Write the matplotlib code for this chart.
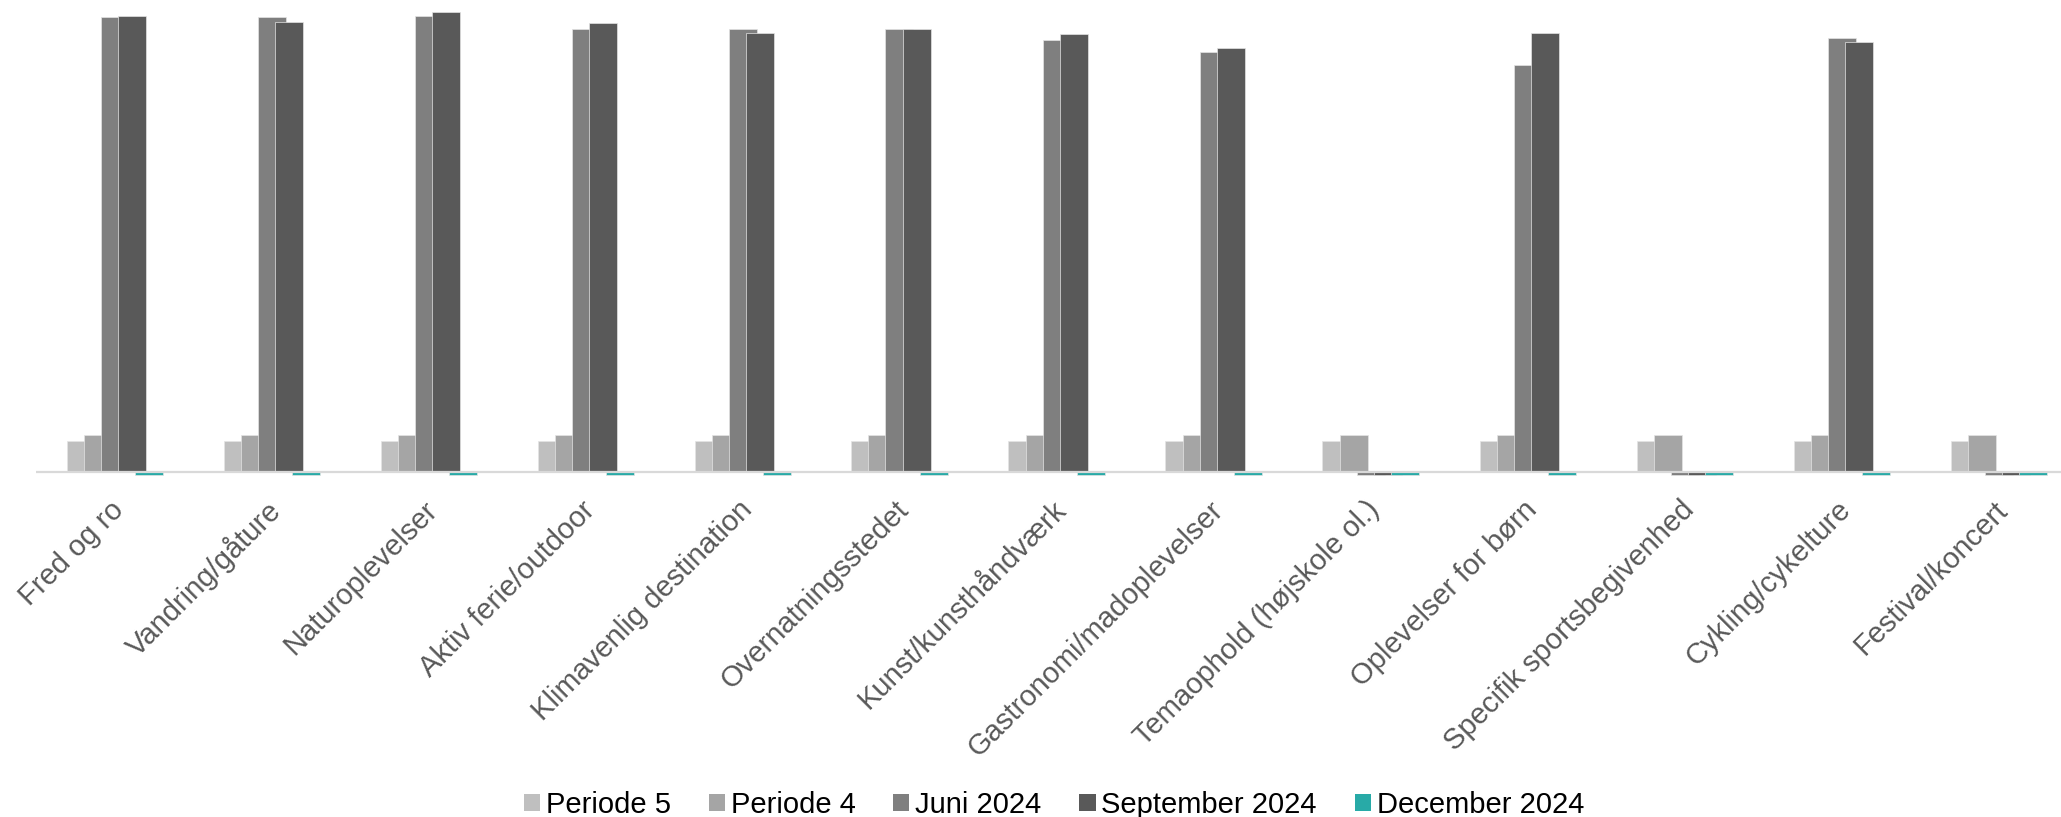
import matplotlib
matplotlib.use("Agg")
import matplotlib.pyplot as plt
import matplotlib.transforms as mtransforms
import numpy as np
from matplotlib.patches import Patch

plt.rcParams['font.family'] = ['Liberation Sans', 'DejaVu Sans']

categories = ["Fred og ro", "Vandring/gåture", "Naturoplevelser", "Aktiv ferie/outdoor",
              "Klimavenlig destination", "Overnatningsstedet", "Kunst/kunsthåndværk",
              "Gastronomi/madoplevelser", "Temaophold (højskole ol.)", "Oplevelser for børn",
              "Specifik sportsbegivenhed", "Cykling/cykelture", "Festival/koncert"]
series_names = ["Periode 5", "Periode 4", "Juni 2024", "September 2024", "December 2024"]

periode5 = [6.7] * 13
periode4 = [8.0] * 13
juni_2024 = [98.9, 98.7, 99.1, 96.1, 96.3, 96.1, 93.9, 91.1, -0.8, 88.3, -0.8, 94.3, -0.8]
september_2024 = [99.1, 97.8, 99.8, 97.4, 95.4, 96.3, 95.2, 92.0, -0.8, 95.4, -0.8, 93.3, -0.8]
december_2024 = [-0.8] * 13

colors = ["#bfbfbf", "#a5a5a5", "#7f7f7f", "#595959", "#28aaa7"]

W, H = 2061, 817
fig = plt.figure(figsize=(W / 100, H / 100), dpi=100)

px_per_unit = 4.6
zero_px = 471.5
ymin = -3.0
ytop = zero_px / px_per_unit
bottom_px = zero_px - ymin * px_per_unit
slot_px = 157.0
left_px = 36.0

ax = fig.add_axes([left_px / W, (H - bottom_px) / H, 1 - left_px / W, bottom_px / H])
ax.set_xlim(-0.5, -0.5 + (W - left_px) / slot_px)
ax.set_ylim(ymin, ytop)

x = np.arange(len(categories))
bar_w = 28 / slot_px
step = 17 / slot_px
all_series = [periode5, periode4, juni_2024, september_2024, december_2024]
for i, (vals, c) in enumerate(zip(all_series, colors)):
    ax.bar(x + (i - 2) * step, vals, width=bar_w, color=c, edgecolor="#e4e4e4",
           linewidth=0.5, zorder=2 + i)

ax.axhline(0, color="#d9d9d9", linewidth=1.6, zorder=10)

for s in ax.spines.values():
    s.set_visible(False)
ax.set_yticks([])
ax.set_xticks(x)
ax.set_xticklabels(categories, rotation=45, ha="right", va="center",
                   rotation_mode="anchor", fontsize=21, color="#595959")
ax.tick_params(axis="x", length=0, pad=19)
offset = mtransforms.ScaledTranslation(5 / 100, 6 / 100, fig.dpi_scale_trans)
for lbl in ax.get_xticklabels():
    lbl.set_transform(lbl.get_transform() + offset)

handles = [Patch(facecolor=c, edgecolor="none") for c in colors]
fig.legend(handles, series_names, loc="center", bbox_to_anchor=(1054 / W, 12 / H),
           ncol=5, frameon=False, fontsize=21, handlelength=0.55, handleheight=0.55,
           handletextpad=0.2, columnspacing=1.3, labelcolor="black")

fig.savefig("out.png", dpi=100)
